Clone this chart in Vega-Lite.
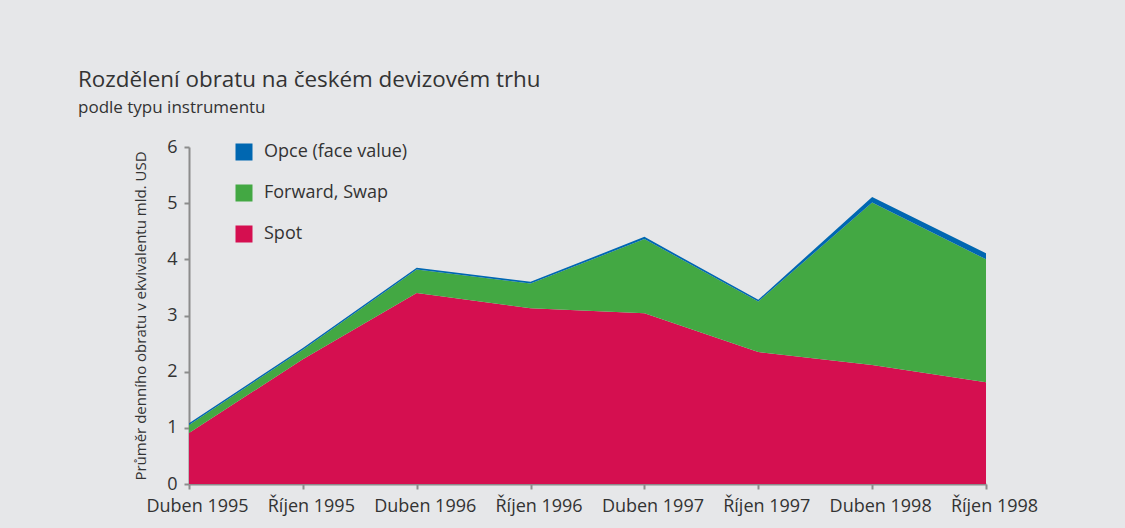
{
  "$schema": "https://vega.github.io/schema/vega-lite/v6.json",
  "width": 797,
  "height": 337,
  "autosize": {"type": "none"},
  "padding": {"left": 189, "top": 147, "right": 139, "bottom": 44},
  "background": "#e6e7e9",
  "title": {
    "text": "Rozdělení obratu na českém devizovém trhu",
    "subtitle": "podle typu instrumentu",
    "anchor": "start",
    "frame": "group",
    "dx": -111,
    "offset": 22,
    "font": "Open Sans",
    "fontSize": 22.4,
    "fontWeight": "normal",
    "color": "#333333",
    "subtitleFont": "Open Sans",
    "subtitleFontSize": 17,
    "subtitleColor": "#333333",
    "subtitlePadding": 9
  },
  "data": {
    "values": [
      {"obdobi": "Duben 1995", "typ": "Spot", "obrat": 0.91},
      {"obdobi": "Říjen 1995", "typ": "Spot", "obrat": 2.22},
      {"obdobi": "Duben 1996", "typ": "Spot", "obrat": 3.40},
      {"obdobi": "Říjen 1996", "typ": "Spot", "obrat": 3.13},
      {"obdobi": "Duben 1997", "typ": "Spot", "obrat": 3.04},
      {"obdobi": "Říjen 1997", "typ": "Spot", "obrat": 2.35},
      {"obdobi": "Duben 1998", "typ": "Spot", "obrat": 2.12},
      {"obdobi": "Říjen 1998", "typ": "Spot", "obrat": 1.81},
      {"obdobi": "Duben 1995", "typ": "Forward, Swap", "obrat": 0.14},
      {"obdobi": "Říjen 1995", "typ": "Forward, Swap", "obrat": 0.17},
      {"obdobi": "Duben 1996", "typ": "Forward, Swap", "obrat": 0.42},
      {"obdobi": "Říjen 1996", "typ": "Forward, Swap", "obrat": 0.44},
      {"obdobi": "Duben 1997", "typ": "Forward, Swap", "obrat": 1.32},
      {"obdobi": "Říjen 1997", "typ": "Forward, Swap", "obrat": 0.90},
      {"obdobi": "Duben 1998", "typ": "Forward, Swap", "obrat": 2.89},
      {"obdobi": "Říjen 1998", "typ": "Forward, Swap", "obrat": 2.19},
      {"obdobi": "Duben 1995", "typ": "Opce (face value)", "obrat": 0.03},
      {"obdobi": "Říjen 1995", "typ": "Opce (face value)", "obrat": 0.03},
      {"obdobi": "Duben 1996", "typ": "Opce (face value)", "obrat": 0.03},
      {"obdobi": "Říjen 1996", "typ": "Opce (face value)", "obrat": 0.03},
      {"obdobi": "Duben 1997", "typ": "Opce (face value)", "obrat": 0.04},
      {"obdobi": "Říjen 1997", "typ": "Opce (face value)", "obrat": 0.03},
      {"obdobi": "Duben 1998", "typ": "Opce (face value)", "obrat": 0.10},
      {"obdobi": "Říjen 1998", "typ": "Opce (face value)", "obrat": 0.11}
    ]
  },
  "transform": [
    {"calculate": "indexof(['Spot', 'Forward, Swap', 'Opce (face value)'], datum.typ)", "as": "poradi"}
  ],
  "mark": {"type": "area", "interpolate": "linear"},
  "encoding": {
    "x": {
      "field": "obdobi",
      "type": "ordinal",
      "sort": ["Duben 1995", "Říjen 1995", "Duben 1996", "Říjen 1996", "Duben 1997", "Říjen 1997", "Duben 1998", "Říjen 1998"],
      "scale": {"type": "point", "padding": 0},
      "axis": {
        "title": null,
        "labelAngle": 0,
        "labelFont": "Open Sans",
        "labelFontSize": 18,
        "labelColor": "#333333",
        "labelPadding": 8,
        "labelOffset": 8,
        "domainColor": "#8c8c8c",
        "domainWidth": 2,
        "tickColor": "#8c8c8c",
        "tickWidth": 2,
        "tickSize": 5,
        "grid": false
      }
    },
    "y": {
      "field": "obrat",
      "type": "quantitative",
      "stack": "zero",
      "scale": {"domain": [0, 6], "nice": false},
      "axis": {
        "title": "Průměr denního obratu v ekvivalentu mld. USD",
        "titleFont": "Open Sans",
        "titleFontSize": 15,
        "titleFontWeight": "normal",
        "titleColor": "#333333",
        "titlePadding": 18,
        "values": [0, 1, 2, 3, 4, 5, 6],
        "labelFont": "Open Sans",
        "labelFontSize": 18,
        "labelColor": "#333333",
        "labelPadding": 7,
        "domainColor": "#8c8c8c",
        "domainWidth": 2,
        "tickColor": "#8c8c8c",
        "tickWidth": 2,
        "tickSize": 5,
        "grid": false
      }
    },
    "color": {
      "field": "typ",
      "type": "nominal",
      "scale": {
        "domain": ["Opce (face value)", "Forward, Swap", "Spot"],
        "range": ["#0067b1", "#43a843", "#d50f50"]
      },
      "legend": {
        "title": null,
        "orient": "none",
        "legendX": 46,
        "legendY": -4,
        "symbolType": "square",
        "symbolSize": 289,
        "symbolStrokeWidth": 0,
        "symbolOpacity": 1,
        "labelFont": "Open Sans",
        "labelFontSize": 18,
        "labelColor": "#333333",
        "labelOffset": 11,
        "rowPadding": 23
      }
    },
    "order": {"field": "poradi", "type": "quantitative", "sort": "ascending"}
  },
  "config": {
    "view": {"stroke": null}
  }
}
